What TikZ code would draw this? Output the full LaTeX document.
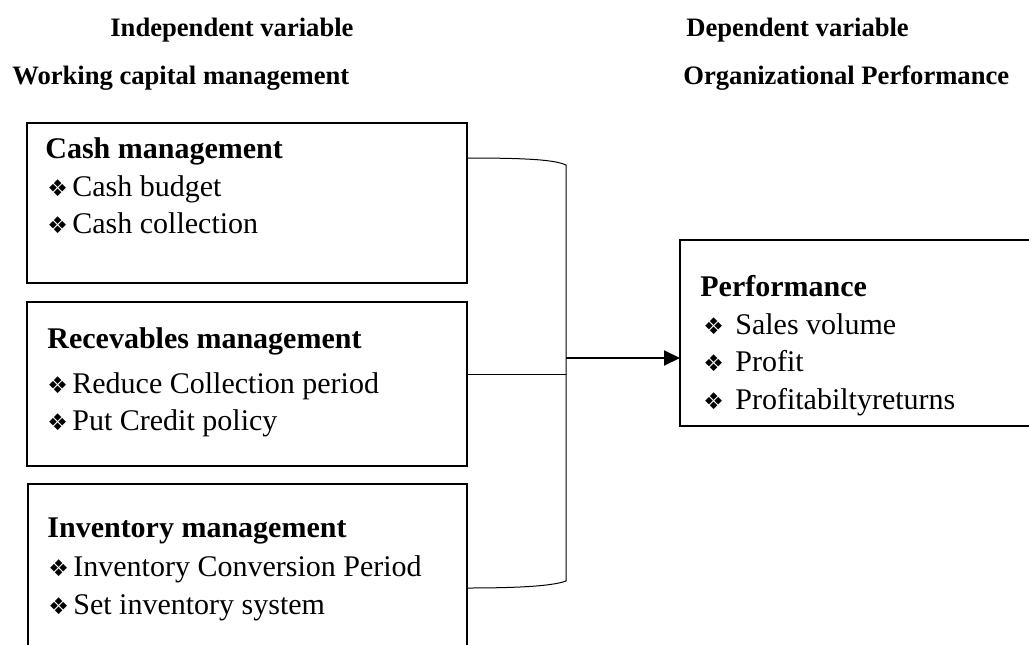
\documentclass[tikz,border=0pt]{standalone}
\usepackage{fontspec}
\setmainfont{Liberation Serif}
\newfontfamily\symfont{DejaVu Sans}
\usetikzlibrary{arrows.meta,calc}
\newcommand{\bul}{{\symfont\fontsize{11.5}{14}\selectfont ❖}}
\begin{document}
\begin{tikzpicture}[x=0.5pt,y=-0.5pt,
  box/.style={draw,line width=0.75pt,inner sep=0,outer sep=0},
  title/.style={anchor=base west,inner sep=0,font=\fontsize{13.3}{15}\selectfont\bfseries},
  head/.style={anchor=base west,inner sep=0,font=\fontsize{15}{18}\selectfont\bfseries},
  item/.style={anchor=base west,inner sep=0,font=\fontsize{15}{18}\selectfont},
  bulmark/.style={anchor=base west,inner sep=0},
  link/.style={line width=0.5pt},
  flow/.style={line width=1pt,-{Triangle[length=8pt,width=7.5pt]}}]
\useasboundingbox (0,0) rectangle (1029,644);
\clip (0,0) rectangle (1029,644);
% titles
\node[title] (t1) at (110,36) {Independent variable};
\node[title] (t2) at (12,84) {Working capital management};
\node[title] (t3) at (686,36) {Dependent variable};
\node[title] (t4) at (683,84) {Organizational Performance};
% boxes
\node[box,minimum width=220pt,minimum height=80pt] (box1) at (247,203) {};
\node[box,minimum width=220pt,minimum height=82pt] (box2) at (247,384) {};
\node[box,minimum width=219.5pt,minimum height=98pt] (box3) at (247.5,582) {};
\node[box,minimum width=190pt,minimum height=93pt] (perf) at (870,333) {};
% box 1
\node[head] (h1) at (45,158) {Cash management};
\node[bulmark] (b11) at (47,196) {\bul};
\node[item] (i11) at (72,196) {Cash budget};
\node[bulmark] (b12) at (47,233) {\bul};
\node[item] (i12) at (72,233) {Cash collection};
% box 2
\node[head] (h2) at (47,348) {Recevables management};
\node[bulmark] (b21) at (47,393) {\bul};
\node[item] (i21) at (72,393) {Reduce Collection period};
\node[bulmark] (b22) at (47,430) {\bul};
\node[item] (i22) at (72,430) {Put Credit policy};
% box 3
\node[head] (h3) at (47,537) {Inventory management};
\node[bulmark] (b31) at (48,576) {\bul};
\node[item] (i31) at (73,576) {Inventory Conversion Period};
\node[bulmark] (b32) at (48,614) {\bul};
\node[item] (i32) at (73,614) {Set inventory system};
% performance
\node[head] (h4) at (700,296) {Performance};
\node[bulmark] (b41) at (703,334) {\bul};
\node[item] (i41) at (735,334) {Sales volume};
\node[bulmark] (b42) at (703,371) {\bul};
\node[item] (i42) at (735,371) {Profit};
\node[bulmark] (b43) at (703,409) {\bul};
\node[item] (i43) at (735,409) {Profitabiltyreturns};
% connectors
\coordinate (j) at (566,358);
\coordinate (top) at (566,165);
\coordinate (bot) at (566,581);
\draw[link] ($(box1.north east)+(0,35)$) .. controls (530,158) and (555,160) .. (top) -- (bot)
  .. controls (555,585) and (530,588) .. ($(box3.north east)+(0,104)$);
\draw[link] ($(box2.north east)+(0,72)$) -- ($(box2.north east)+(99,72)$);
\draw[flow] (j) -- (j -| perf.west);
\end{tikzpicture}
\end{document}
